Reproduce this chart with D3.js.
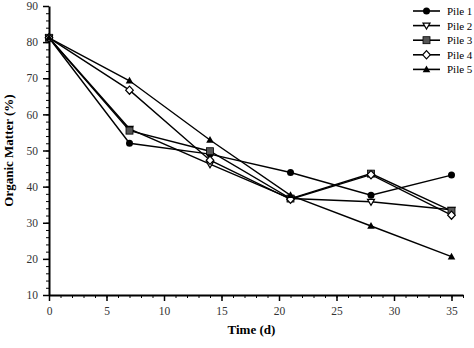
<!DOCTYPE html>
<html lang="en">
<head>
    <meta charset="UTF-8">
    <title>Organic matter over time</title>
    <script src="https://d3js.org/d3.v7.min.js"></script>
    <style>
        body { margin: 0; background: #fff; }
        svg { font-family: 'Liberation Serif', 'DejaVu Serif', serif; }
        .axis text { font-family: 'Liberation Serif', serif; font-size: 11.5px; fill: #333; }
        .axis path, .axis line { stroke: #000; }
        .axis path { stroke-width: 2px; }
        .axis-title { font-size: 13px; font-weight: bold; }
        .series { fill: none; stroke: #000; stroke-width: 1.4px; }
        .legend text { font-size: 11px; }
    </style>
</head>
<body>
<script>
    // time points (days)
    var days = [0, 7, 14, 21, 28, 35];

    // organic matter (%) per pile
    var pile1 = [81.2, 52.0, 49.0, 43.9, 37.6, 43.2];
    var pile2 = [81.2, 56.0, 46.2, 36.7, 35.8, 33.6];
    var pile3 = [81.2, 55.5, 49.8, 36.7, 43.6, 33.3];
    var pile4 = [81.2, 66.7, 47.3, 36.5, 43.3, 32.1];
    var pile5 = [81.2, 69.3, 52.9, 37.6, 29.1, 20.6];

    var names = ["Pile 1", "Pile 2", "Pile 3", "Pile 4", "Pile 5"];
    var series = [pile1, pile2, pile3, pile4, pile5];

    var xTicks = [0, 5, 10, 15, 20, 25, 30, 35];
    var yTicks = [10, 20, 30, 40, 50, 60, 70, 80, 90];

    var W = 474, H = 348;
    var margin = {top: 6, right: 11, bottom: 53, left: 49};
    var width = W - margin.left - margin.right,
        height = H - margin.top - margin.bottom;

    var svg = d3.select("body").append("svg")
        .attr("width", W)
        .attr("height", H);

    var g = svg.append("g")
        .attr("transform", "translate(" + margin.left + "," + margin.top + ")");

    var x = d3.scaleLinear().domain([0, 36]).range([0, width]);
    var y = d3.scaleLinear().domain([10, 90]).range([height, 0]);

    // minor ticks
    g.append("g")
        .attr("class", "axis")
        .attr("transform", "translate(0," + height + ")")
        .call(d3.axisBottom(x).tickValues(d3.range(0, 37, 1)).tickSize(3).tickFormat(""))
        .select(".domain").remove();
    g.append("g")
        .attr("class", "axis")
        .call(d3.axisLeft(y).tickValues(d3.range(10, 91, 2)).tickSize(3).tickFormat(""))
        .select(".domain").remove();

    // major axes
    var xAxis = g.append("g")
        .attr("class", "axis")
        .attr("transform", "translate(0," + height + ")")
        .call(d3.axisBottom(x).tickValues(xTicks).tickSizeInner(6).tickSizeOuter(0).tickPadding(6));
    xAxis.selectAll(".tick line").attr("stroke-width", 1.5);

    var yAxis = g.append("g")
        .attr("class", "axis")
        .call(d3.axisLeft(y).tickValues(yTicks).tickSizeInner(6).tickSizeOuter(0).tickPadding(5));
    yAxis.selectAll(".tick line").attr("stroke-width", 1.5);

    // axis titles
    svg.append("text")
        .attr("class", "axis-title")
        .attr("x", margin.left + x(17.6))
        .attr("y", 334)
        .attr("text-anchor", "middle")
        .text("Time (d)");

    svg.append("text")
        .attr("class", "axis-title")
        .attr("transform", "translate(13," + (margin.top + y(50)) + ") rotate(-90)")
        .attr("text-anchor", "middle")
        .text("Organic Matter (%)");

    // marker drawing
    function marker(sel, i) {
        var s = 3.5;
        if (i === 0) {
            sel.append("circle").attr("r", s).attr("fill", "#000");
        } else if (i === 1) {
            sel.append("path")
                .attr("d", "M" + (-s) + "," + (-s * 0.7) + "L" + s + "," + (-s * 0.7) + "L0," + (s * 1.0) + "Z")
                .attr("fill", "#fff").attr("stroke", "#000").attr("stroke-width", 1.2);
        } else if (i === 2) {
            sel.append("rect")
                .attr("x", -s).attr("y", -s).attr("width", 2 * s).attr("height", 2 * s)
                .attr("fill", "#555").attr("stroke", "#000").attr("stroke-width", 0.8);
        } else if (i === 3) {
            sel.append("path")
                .attr("d", "M0," + (-s - 0.6) + "L" + (s + 0.3) + ",0L0," + (s + 0.6) + "L" + (-s - 0.3) + ",0Z")
                .attr("fill", "#fff").attr("stroke", "#000").attr("stroke-width", 1.2);
        } else {
            sel.append("path")
                .attr("d", "M0," + (-s - 0.5) + "L" + (s + 0.3) + "," + (s * 0.8) + "L" + (-s - 0.3) + "," + (s * 0.8) + "Z")
                .attr("fill", "#000");
        }
    }

    var line = d3.line()
        .x(function(d, i) { return x(days[i]); })
        .y(function(d) { return y(d); });

    series.forEach(function(vals, i) {
        g.append("path")
            .attr("class", "series")
            .attr("d", line(vals));
    });

    series.forEach(function(vals, i) {
        vals.forEach(function(v, j) {
            var m = g.append("g")
                .attr("transform", "translate(" + x(days[j]) + "," + y(v) + ")");
            marker(m, i);
        });
    });

    // legend
    var legend = svg.append("g").attr("class", "legend")
        .attr("transform", "translate(413,11)");
    names.forEach(function(n, i) {
        var row = legend.append("g").attr("transform", "translate(0," + (i * 14.6) + ")");
        row.append("line")
            .attr("x1", 0).attr("x2", 27)
            .attr("stroke", "#000").attr("stroke-width", 1.6);
        var m = row.append("g").attr("transform", "translate(13.5,0)");
        marker(m, i);
        row.append("text")
            .attr("x", 34).attr("y", 4)
            .text(n);
    });
</script>
</body>
</html>
